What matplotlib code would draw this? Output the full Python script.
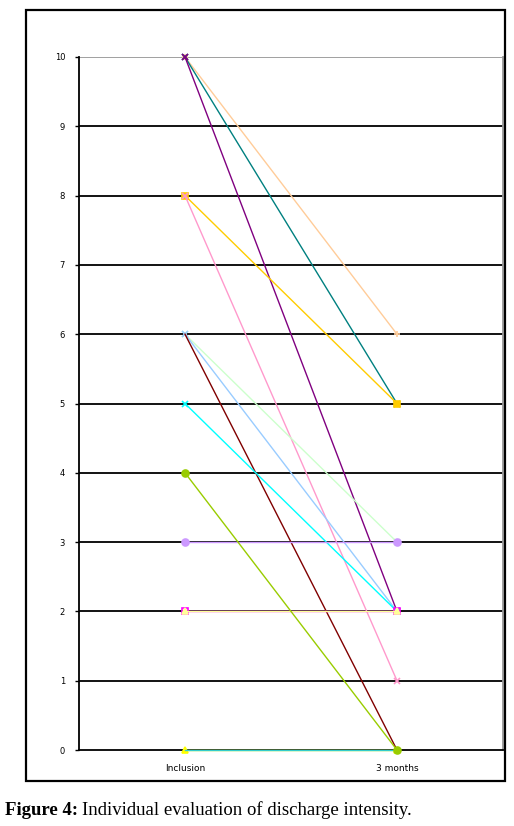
import matplotlib.pyplot as plt
from matplotlib.patches import Rectangle

# data
categories = ['Inclusion', '3 months']
inclusion = [10, 10, 10, 8, 8, 6, 6, 6, 5, 4, 3, 2, 2, 0, 0]
three_months = [6, 5, 2, 5, 1, 3, 2, 0, 2, 0, 3, 2, 2, 0, 0]
colors = ['#FFCC99', '#008080', '#800080', '#FFCC00', '#FF99CC',
          '#CCFFCC', '#99CCFF', '#800000', '#00FFFF', '#99CC00',
          '#CC99FF', '#FF00FF', '#FFFF99', '#FFFF00', '#33CCCC']
markers = ['+', 'x', 'x', 's', 'x', 'x', 'x', '', 'x', 'o',
           'o', 's', '^', '^', '']
y_ticks = list(range(0, 11))

fig = plt.figure(figsize=(5.14, 8.26), dpi=100)

# outer frame round the chart
fig.patches.append(Rectangle((0.0506, 0.0545), 0.9319, 0.9334, transform=fig.transFigure,
                             fill=False, edgecolor='black', linewidth=1.6))

ax = fig.add_axes([0.1537, 0.092, 0.8249, 0.839])
x = list(range(len(categories)))
for i in range(len(inclusion)):
    mfc = 'none' if colors[i] == '#FF00FF' else colors[i]
    # the green circle at 3 months / 0 sits on top of everything
    z = 30 if colors[i] == '#99CC00' else 3 + i
    ax.plot(x, [inclusion[i], three_months[i]], color=colors[i], lw=1,
            marker=markers[i] if markers[i] else None, markersize=5,
            markerfacecolor=mfc, markeredgecolor=colors[i], markeredgewidth=1.2,
            zorder=z, clip_on=False)

ax.set_xlim(-0.5, 1.5)
ax.set_ylim(0, 10)
ax.set_yticks(y_ticks)
ax.set_yticklabels([str(v) for v in y_ticks], fontsize=6)
ax.set_xticks(x)
ax.set_xticklabels(categories, fontsize=6.5)
ax.tick_params(axis='y', length=3, width=1, pad=7, direction='out')
ax.tick_params(axis='x', length=0, pad=10)

for v in y_ticks[1:-1]:
    ax.axhline(v, color='black', lw=1.3, zorder=1)
ax.axhline(10, color='#999999', lw=1.3, zorder=1)

for s in ['top', 'right']:
    ax.spines[s].set_visible(False)
ax.spines['left'].set_linewidth(1.3)
ax.spines['bottom'].set_linewidth(1.3)
ax.axvline(1.5, color='#999999', lw=1.3, clip_on=False, zorder=1)

# caption: bold label followed by regular text
fig.canvas.draw()
renderer = fig.canvas.get_renderer()
t1 = fig.text(0.01, 0.013, 'Figure 4:', fontsize=13.5, fontweight='bold',
              family='Liberation Serif')
bb = t1.get_window_extent(renderer=renderer)
fig.text((bb.x1 + 4) / fig.bbox.width, 0.013, 'Individual evaluation of discharge intensity.',
         fontsize=13.5, family='Liberation Serif')

fig.savefig('out.png', dpi=100)
